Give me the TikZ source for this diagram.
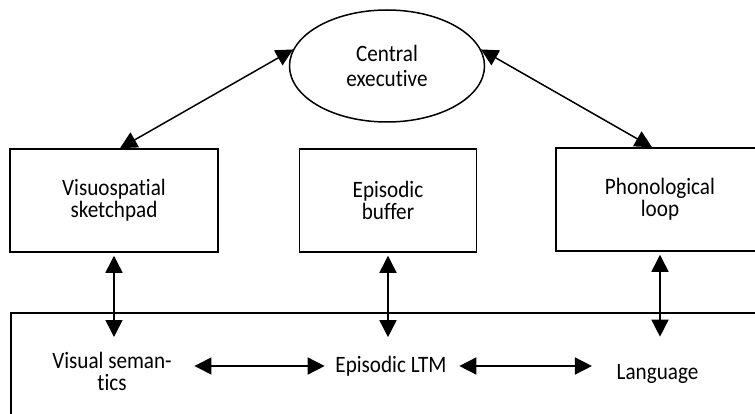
\documentclass[tikz,border=0pt]{standalone}
\usepackage{fontspec}
\setmainfont{Carlito}[FakeStretch=0.9, Ligatures=NoCommon]
\usepackage{tikz}
\usetikzlibrary{shapes, arrows.meta, positioning}

\begin{document}
\begin{tikzpicture}[x=1pt, y=-1pt, line width=1.5pt,
        font=\fontsize{23.5}{22}\selectfont,
        store/.style={draw, rectangle, align=center, minimum height=103pt, inner sep=0pt},
        item/.style={align=center, inner sep=0pt},
        link/.style={{Triangle[length=17pt,width=17pt]}-{Triangle[length=17pt,width=17pt]}}]
        % Fix the page size
        \useasboundingbox (0,0) rectangle (755,414);

        % Long-term memory frame (runs off the page)
        \draw (11,313) rectangle (780,440);

        % Working memory components
        \node[draw, ellipse, minimum width=195pt, minimum height=112pt, inner sep=0pt, align=center,
              font=\fontsize{23.5}{25}\selectfont] (ce) at (387,66) {Central\\executive};
        \node[store, minimum width=208pt] (vss) at (114,200.5) {Visuospatial\\sketchpad};
        \node[store, minimum width=177pt] (eb) at (388,200.5) {Episodic\\buffer};
        \node[store, minimum width=208pt] (pl) at (660,199.5) {Phonological\\loop};

        % Long-term stores
        \node[item] (vsem) at (112,371) {Visual seman-\\tics};
        \node[item] (eltm) at (391,366) {Episodic LTM};
        \node[item] (lang) at (657.5,374) {Language};

        % Connections
        \draw[link] (ce.170) -- ([xshift=6pt]vss.north);
        \draw[link] (ce.10) -- ([xshift=-8pt]pl.north);
        \draw[link, shorten <=3pt, shorten >=14pt] (vss.south) -- (vss.south |- vsem.north);
        \draw[link, shorten <=3pt, shorten >=18pt] (eb.south) -- (eb.south |- eltm.north);
        \draw[link, shorten <=3pt, shorten >=27pt] (pl.south) -- (pl.south |- lang.north);
        \draw[link, shorten <=22pt, shorten >=10pt] (vsem.east |- eltm.west) -- (eltm.west);
        \draw[link, shorten <=12pt, shorten >=24pt] (eltm.east) -- (eltm.east -| lang.west);
    \end{tikzpicture}
\end{document}
